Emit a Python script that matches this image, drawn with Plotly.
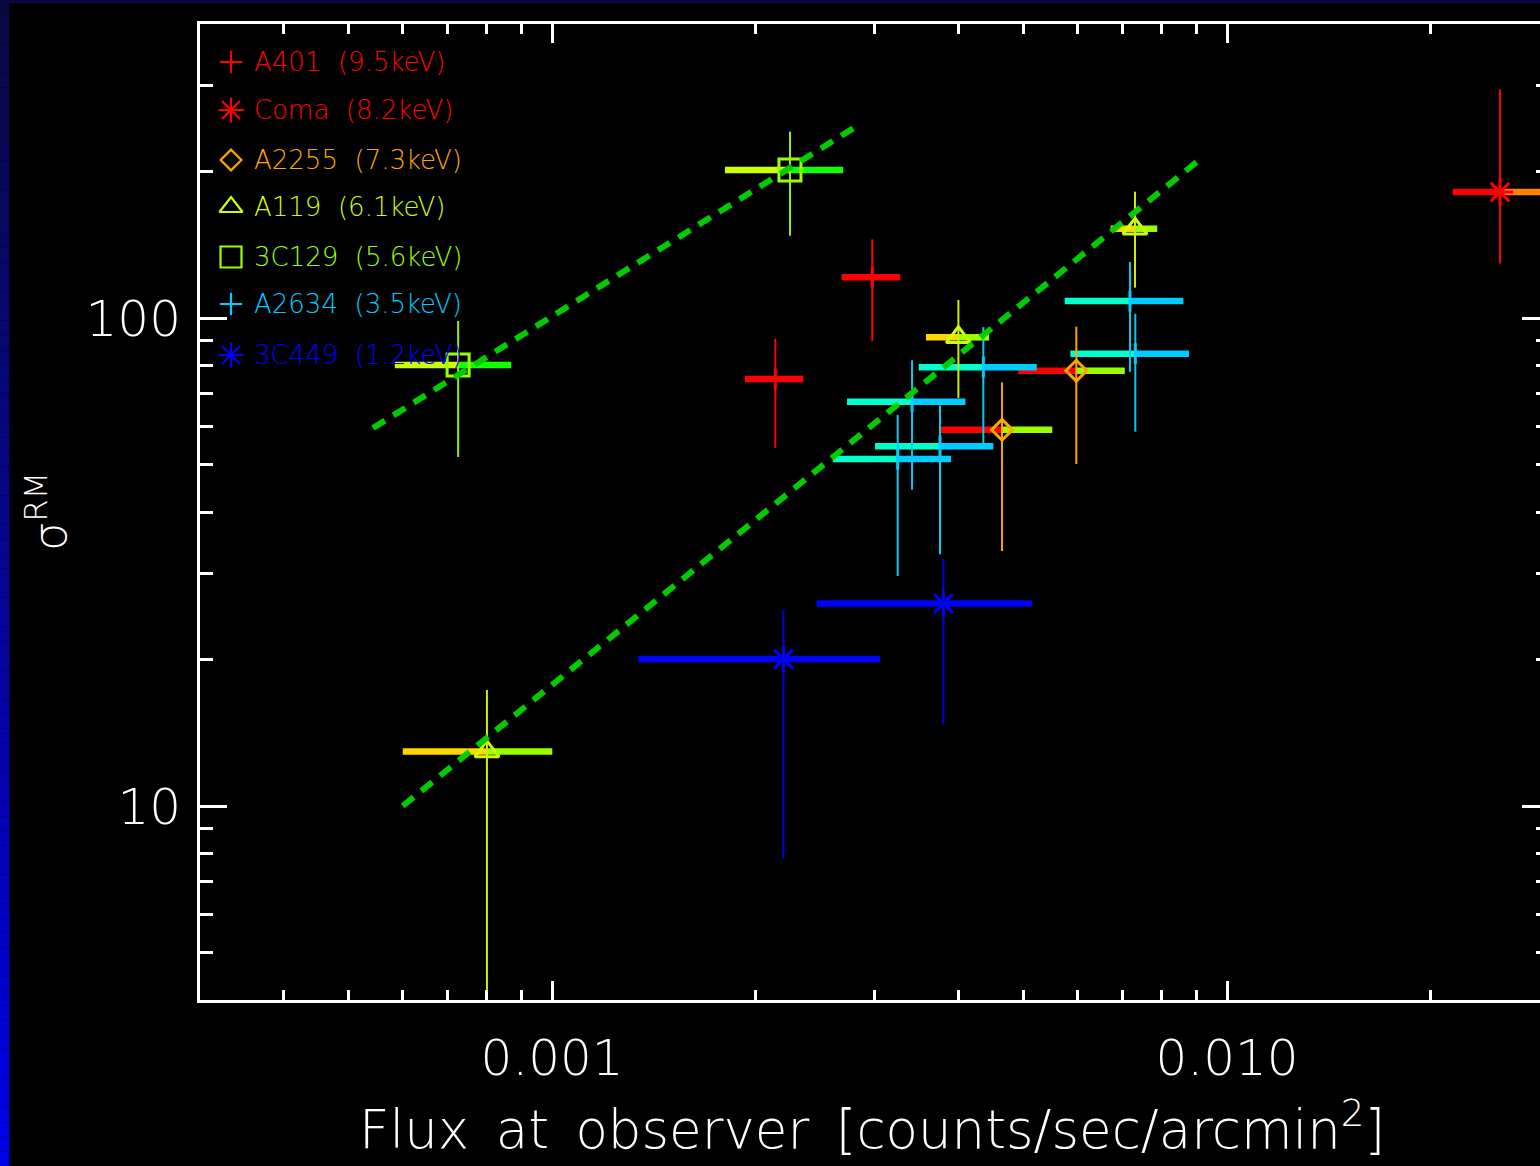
import numpy as np
import plotly.graph_objects as go

# ---------------- data ----------------
A401_x   = [0.002142, 0.002982]
A401_y   = [75.0, 121.2]
A401_xlo = [0.001931, 0.002686]
A401_xhi = [0.002357, 0.003280]
A401_ylo = [54.2, 89.8]
A401_yhi = [90.6, 145.0]

Coma_x   = [0.02538]
Coma_y   = [181.2]
Coma_xlo = [0.02160]
Coma_xhi = [0.0305]
Coma_ylo = [129.4]
Coma_yhi = [294.2]

A2255_x   = [0.004642, 0.005981]
A2255_y   = [59.0, 78.0]
A2255_xlo = [0.003770, 0.004908]
A2255_xhi = [0.005510, 0.007056]
A2255_ylo = [33.3, 50.2]
A2255_yhi = [73.8, 96.0]

A119_x   = [0.000801, 0.004000, 0.007306]
A119_y   = [12.94, 91.3, 152.4]
A119_xlo = [0.000601, 0.003581, 0.006725]
A119_xhi = [0.001001, 0.004441, 0.007882]
A119_ylo = [3.0, 68.6, 115.4]
A119_yhi = [17.29, 108.9, 181.5]

C3C129_x   = [0.000726, 0.002252]
C3C129_y   = [80.1, 201.0]
C3C129_xlo = [0.000585, 0.001804]
C3C129_xhi = [0.000870, 0.002700]
C3C129_ylo = [51.9, 147.4]
C3C129_yhi = [98.6, 240.9]

A2634_x   = [0.003252, 0.003415, 0.003757, 0.004355, 0.007182, 0.007314]
A2634_y   = [51.4, 67.4, 54.6, 79.3, 108.3, 84.5]
A2634_xlo = [0.002606, 0.002735, 0.003010, 0.003494, 0.005748, 0.005861]
A2634_xhi = [0.003900, 0.004097, 0.004506, 0.005226, 0.008616, 0.008785]
A2634_ylo = [29.6, 44.5, 32.8, 55.4, 77.6, 58.5]
A2634_yhi = [63.3, 81.9, 66.2, 95.8, 130.2, 102.0]

C3C449_x   = [0.002202, 0.003800]
C3C449_y   = [20.0, 26.0]
C3C449_xlo = [0.001342, 0.002467]
C3C449_xhi = [0.003062, 0.005141]
C3C449_ylo = [7.81, 14.7]
C3C449_yhi = [25.2, 32.1]

fit1_x = [0.000543, 0.00283]
fit1_y = [59.5, 247.5]
fit2_x = [0.000601, 0.00921]
fit2_y = [10.0, 213.8]

legend_labels = ["A401  (9.5keV)", "Coma  (8.2keV)", "A2255  (7.3keV)", "A119  (6.1keV)",
                 "3C129  (5.6keV)", "A2634  (3.5keV)", "3C449  (1.2keV)"]

x_major_vals = [0.001, 0.01]
x_major_text = ["0.001", "0.010"]
y_major_vals = [10, 100]
y_major_text = ["10", "100"]

# ---------------- styles ----------------
clusters = [
    dict(d=(A401_x, A401_y, A401_xlo, A401_xhi, A401_ylo, A401_yhi), cl="#ff0000", cr="#ff0000",
         cv="#ff0000", cm="#ff0000", sym="line-ns-open", lsym="cross-thin-open", size=15, lsize=16),
    dict(d=(Coma_x, Coma_y, Coma_xlo, Coma_xhi, Coma_ylo, Coma_yhi), cl="#ff0000", cr="#ff8000",
         cv="#ff0000", cm="#ff0000", sym="asterisk-open", lsym="asterisk-open", size=22, lsize=21),
    dict(d=(A2255_x, A2255_y, A2255_xlo, A2255_xhi, A2255_ylo, A2255_yhi), cl="#ff0000", cr="#99ff00",
         cv="#ffa500", cm="#ffa500", sym="diamond-open", lsym="diamond-open", size=16, lsize=16),
    dict(d=(A119_x, A119_y, A119_xlo, A119_xhi, A119_ylo, A119_yhi), cl="#ffd700", cr="#99ff00",
         cv="#c8f000", cm="#ccff00", sym="triangle-up-open", lsym="triangle-up-open", size=21, lsize=20),
    dict(d=(C3C129_x, C3C129_y, C3C129_xlo, C3C129_xhi, C3C129_ylo, C3C129_yhi), cl="#ccff00", cr="#11ff00",
         cv="#99ee00", cm="#99ff00", sym="square-open", lsym="square-open", size=22, lsize=21),
    dict(d=(A2634_x, A2634_y, A2634_xlo, A2634_xhi, A2634_ylo, A2634_yhi), cl="#00ffcc", cr="#00ccff",
         cv="#00ccf0", cm="#00ccff", sym="line-ns-open", lsym="cross-thin-open", size=15, lsize=16),
    dict(d=(C3C449_x, C3C449_y, C3C449_xlo, C3C449_xhi, C3C449_ylo, C3C449_yhi), cl="#0000ff", cr="#0000ff",
         cv="#0000dd", cm="#0000ff", sym="asterisk-open", lsym="asterisk-open", size=22, lsize=21),
]
legend_text_colors = ["#ff0000", "#ff0000", "#ffa500", "#ccff00", "#99ff00", "#00ccff", "#0000ff"]

FONT = "DejaVu Sans"
WEIGHT = 200
W, H = 1540, 1166
L, R, T, B = 200, 0, 24, 166
PW, PH = W - L - R, H - T - B


def pxx(px):
    return (px - L) / PW


def pxy(py):
    return (H - B - py) / PH


fig = go.Figure()

# horizontal (two-tone) bars
for c in clusters:
    x, y, xlo, xhi, ylo, yhi = c["d"]
    lx, ly, rx, ry = [], [], [], []
    for i in range(len(x)):
        lx += [xlo[i], x[i], None]
        ly += [y[i], y[i], None]
        rx += [x[i], xhi[i], None]
        ry += [y[i], y[i], None]
    fig.add_trace(go.Scatter(x=lx, y=ly, mode="lines", line=dict(color=c["cl"], width=6.5),
                             showlegend=False, hoverinfo="skip"))
    fig.add_trace(go.Scatter(x=rx, y=ry, mode="lines", line=dict(color=c["cr"], width=6.5),
                             showlegend=False, hoverinfo="skip"))

# vertical error bars
for c in clusters:
    x, y, xlo, xhi, ylo, yhi = c["d"]
    vx, vy = [], []
    for i in range(len(x)):
        vx += [x[i], x[i], None]
        vy += [ylo[i], yhi[i], None]
    fig.add_trace(go.Scatter(x=vx, y=vy, mode="lines", line=dict(color=c["cv"], width=2),
                             showlegend=False, hoverinfo="skip"))

# markers
for c in clusters:
    x, y = c["d"][0], c["d"][1]
    fig.add_trace(go.Scatter(x=x, y=y, mode="markers",
                             marker=dict(symbol=c["sym"], size=c["size"], color=c["cm"],
                                         line=dict(color=c["cm"], width=3)),
                             showlegend=False, hoverinfo="skip"))

# dashed fit lines
for fx, fy in [(fit1_x, fit1_y), (fit2_x, fit2_y)]:
    fig.add_trace(go.Scatter(x=fx, y=fy, mode="lines",
                             line=dict(color="#00cc00", width=6, dash="14px,10px"),
                             showlegend=False, hoverinfo="skip"))

# right-side ticks (axis line itself is outside the picture)
fig.add_trace(go.Scatter(x=[None], y=[None], yaxis="y2", showlegend=False, hoverinfo="skip"))

# hand-made legend in pixel space
leg_rows = [62, 110, 160, 207, 257, 304, 355]
for i, c in enumerate(clusters):
    fig.add_trace(go.Scatter(x=[231], y=[leg_rows[i]], xaxis="x3", yaxis="y3", mode="markers",
                             marker=dict(symbol=c["lsym"], size=c["lsize"], color=legend_text_colors[i],
                                         line=dict(color=legend_text_colors[i], width=2.2)),
                             showlegend=False, hoverinfo="skip"))
    fig.add_annotation(x=pxx(252), y=pxy(leg_rows[i]), xref="paper", yref="paper",
                       text=legend_labels[i], showarrow=False, xanchor="left", yanchor="middle",
                       font=dict(family=FONT, size=26, color=legend_text_colors[i], weight=WEIGHT))

# axis titles
fig.add_annotation(x=pxx(872), y=pxy(1126), xref="paper", yref="paper",
                   text="Flux\u2002at\u2002observer\u2002[counts/sec/arcmin<sup>2</sup>]", showarrow=False,
                   xanchor="center", yanchor="middle",
                   font=dict(family=FONT, size=53, color="white", weight=WEIGHT))
fig.add_annotation(x=pxx(47), y=pxy(512), xref="paper", yref="paper",
                   text="σ<sup>RM</sup>", textangle=-90, showarrow=False,
                   xanchor="center", yanchor="middle",
                   font=dict(family=FONT, size=46, color="white", weight=WEIGHT))

# frame decorations: navy top strip and gradient left strip
shapes = [dict(type="rect", xref="paper", yref="paper", x0=pxx(0), x1=pxx(W), y0=pxy(3.3), y1=pxy(0),
               fillcolor="rgb(8,8,60)", line=dict(width=0), layer="below")]
N = 80
for k in range(N):
    t = (k + 0.5) / N
    col = "rgb(%d,%d,%d)" % (int(10 * (1 - t)), int(10 * (1 - t)), int(64 + (232 - 64) * t))
    shapes.append(dict(type="rect", xref="paper", yref="paper", x0=pxx(0), x1=pxx(9.3),
                       y0=pxy(H * (k + 1) / N), y1=pxy(H * k / N),
                       fillcolor=col, line=dict(width=0), layer="below"))

x_minor = [m * 10.0 ** e for e in (-4, -3, -2) for m in range(2, 10)]
y_minor = [m * 10.0 ** e for e in (0, 1, 2) for m in range(2, 10)]

xr = [-3.52148, -1.53630]
yr = [0.6025, 2.6025]

fig.update_layout(
    width=W, height=H, autosize=False,
    margin=dict(l=L, r=R, t=T, b=B, pad=0),
    paper_bgcolor="black", plot_bgcolor="black",
    showlegend=False, shapes=shapes,
    xaxis=dict(type="log", range=xr, showgrid=False, zeroline=False,
               showline=True, linecolor="white", linewidth=3, mirror="ticks",
               ticks="inside", ticklen=19, tickwidth=2.5, tickcolor="white",
               tickmode="array", tickvals=x_major_vals, ticktext=x_major_text,
               tickfont=dict(family=FONT, size=50, color="white", weight=WEIGHT), ticklabelstandoff=12,
               minor=dict(ticks="inside", ticklen=10, tickwidth=2.5, tickcolor="white",
                          tickmode="array", tickvals=x_minor, showgrid=False)),
    yaxis=dict(type="log", range=yr, showgrid=False, zeroline=False,
               showline=True, linecolor="white", linewidth=3, mirror=False,
               ticks="inside", ticklen=27, tickwidth=2.5, tickcolor="white",
               tickmode="array", tickvals=y_major_vals, ticktext=y_major_text,
               tickfont=dict(family=FONT, size=50, color="white", weight=WEIGHT), ticklabelstandoff=6,
               minor=dict(ticks="inside", ticklen=13, tickwidth=2.5, tickcolor="white",
                          tickmode="array", tickvals=y_minor, showgrid=False)),
    yaxis2=dict(type="log", range=yr, overlaying="y", side="right", anchor="x",
                showgrid=False, zeroline=False, showline=False, showticklabels=False,
                ticks="inside", ticklen=18, tickwidth=2.5, tickcolor="white",
                tickmode="array", tickvals=y_major_vals,
                minor=dict(ticks="inside", ticklen=4, tickwidth=2.5, tickcolor="white",
                           tickmode="array", tickvals=y_minor, showgrid=False)),
    xaxis3=dict(range=[L, W - R], overlaying="x", visible=False, anchor="y3"),
    yaxis3=dict(range=[H - B, T], overlaying="y", visible=False, anchor="x3"),
)

fig.write_html("out.html")
